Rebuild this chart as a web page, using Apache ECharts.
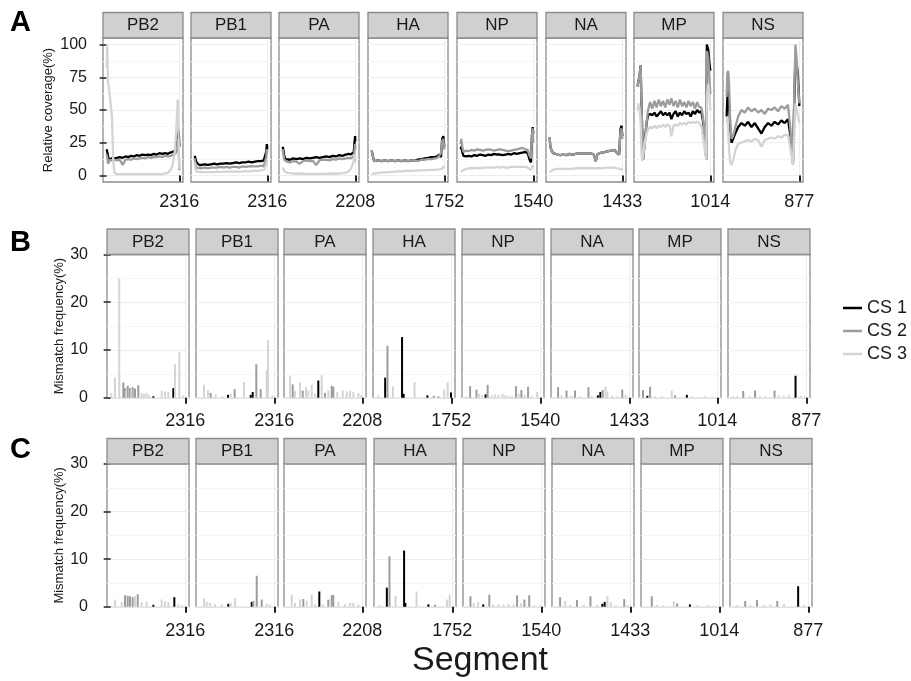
<!DOCTYPE html>
<html><head><meta charset="utf-8">
<script src="https://cdn.jsdelivr.net/npm/echarts@6/dist/echarts.min.js"></script>
<style>html,body{margin:0;padding:0;background:#fff}#chart{width:911px;height:681px}</style>
</head><body><div id="chart"></div>
<script>
// ---------------- DATA ----------------
const segments = ['PB2','PB1','PA','HA','NP','NA','MP','NS'];
const segLength = [2316,2316,2208,1752,1540,1433,1014,877];
const csNames = ['CS 1','CS 2','CS 3'];
const coverageTicks = [0,25,50,75,100];
const coverageMinor = [12.5,37.5,62.5,87.5];
const mismatchTicks = [0,10,20,30];

// Panel A: relative coverage (%) along each segment; positions (nt) shared by the three samples
const covPos = [
  [1,20,45,70,100,130,170,210,250,330,420,510,600,690,780,870,960,1050,1140,1230,1320,1410,1500,1590,1680,1770,1860,1950,2030,2100,2160,2200,2240,2265,2285,2300,2316],
  [1,25,60,100,150,220,320,420,520,620,720,820,920,1020,1120,1220,1320,1420,1520,1620,1720,1820,1920,2020,2120,2200,2250,2280,2300,2316],
  [1,20,50,90,140,220,320,420,520,620,720,820,920,1020,1120,1220,1320,1420,1520,1620,1720,1820,1920,2000,2070,2120,2160,2185,2200,2208],
  [1,15,35,60,100,160,240,320,400,480,560,640,720,800,880,960,1040,1120,1200,1280,1360,1440,1520,1580,1630,1670,1700,1725,1752],
  [1,15,35,60,90,120,170,230,290,350,410,470,530,590,650,710,770,830,890,950,1010,1070,1130,1190,1250,1310,1370,1420,1460,1490,1510,1525,1540],
  [1,15,40,70,100,150,210,270,330,390,450,510,570,630,690,750,810,870,910,940,980,1040,1100,1160,1220,1280,1330,1370,1395,1415,1433],
  [1,10,25,43,52,64,76,100,125,146,175,205,235,265,295,325,355,385,415,445,471,500,530,560,590,620,650,680,710,740,770,800,830,860,888,910,935,958,965,985,1000,1014],
  [1,10,20,30,45,60,80,110,140,180,220,260,300,340,380,420,460,500,540,580,620,660,700,740,770,800,815,830,845,860,877]
];
const covCS1 = [
  [20,18,15,12,13,13.5,13,13.5,13,13.5,14,13.5,14.5,14,15,14.5,15.5,15,16,15.5,16,15.5,16.5,16,17,16.5,17,16.5,17.5,18,18.5,19,24,30,35,32,22],
  [15,13,10,8.5,8,8,8.5,8,8.5,9,8.5,9,9,9.5,9,9.5,10,9.5,10,10,10.5,10,10.5,11,11,11.5,12,18,24,20],
  [22,20,15,12.5,12.5,12,13,12.5,13,12.5,13.5,13,13.5,14,13.5,14,14.5,14,15,14.5,15.5,15,16,16.5,16,17,18,26,30,26],
  [19,17,14,11,11,11.5,11,11.5,11,11.5,11,11.5,11,11.5,11,11.5,11.5,12,12.5,13,13.5,14,14,14.5,16,14,28,30,22],
  [20,22,18,15,14,14.5,15,14.5,15.5,15,16,15.5,15,16,15.5,16.5,16,16,15.5,16,16.5,16,17,16.5,17,17.5,18,17,12,10,30,37,32],
  [29,22,19,17,16,16,15.5,16,15.5,16.5,16,16.5,17,16.5,17,16.5,17,16,11,16,17,17.5,18,18.5,19,19.5,17,16,35,38,30],
  [68,72,75,84,60,35,12,25,40,46,47,46,48,45,47,49,46,48,46,48,43,47,49,45,48,46,49,47,48,45,49,47,50,48,49,42,28,12,100,96,86,80],
  [45,60,70,55,35,25,28,33,37,40,38,41,37,40,36,32,37,40,38,41,39,42,40,43,30,9,55,92,85,76,53]
];
const covCS2 = [
  [16,14,9,10,12,12,11.5,12,12,11.5,12,8,12,12.5,12,13,12.5,13,13.5,13,14,13.5,14,14,14.5,14,15,14.5,15,15.5,16,17,20,25,28,15,4],
  [13,9,6,6,5.5,5.5,6,5.5,6,6,6,6.5,6,6.5,6,6.5,6.5,6,7,6.5,7,7,7,7,7.5,7,8,14,20,18],
  [20,17,12,10.5,10.5,10,11,10.5,9,11,11.5,11,11,8,11.5,12,12,11.5,12.5,12,13,12.5,13,13.5,13,14,15,20,24,20],
  [19,17,14,11,11,11.5,11,11.5,11,11.5,11,11.5,11,11.5,11,11.5,11.5,11,12,12,12.5,12.5,13,13.5,15,17,26,28,20],
  [24,28,22,18,18.5,19,18.5,19.5,19,20,19.5,19,19.5,20,19.5,19,19.5,20,19.5,19,18.5,19,19.5,20,20.5,21,20,19.5,15,13,30,36,25],
  [29,22,19,17,16,16,15.5,16,15.5,16.5,16,16.5,17,16.5,17,16.5,17,16,11,16,17,17.5,18,18.5,19,19.5,17,16,33,36,28],
  [68,72,75,84,60,35,12,25,40,50,56,51,57,52,58,53,57,52,58,54,59,53,57,52,58,53,56,52,57,53,56,51,56,52,52,45,30,12,95,90,75,62],
  [60,78,80,70,40,28,30,38,45,50,48,52,49,51,48,50,47,51,50,52,49,53,51,54,35,10,60,100,88,70,55]
];
const covCS3 = [
  [82,100,70,68,68,67,45,12,2,1,1,1,1,1,1,1,1,1,1,1,1,1,1,1,1,1,1.5,2,4,8,16,28,45,58,40,18,5],
  [10,5,3,2.5,2.5,2.5,2.5,2.5,2.5,2.5,3,2.5,3,3,3,3,3,3,3,3.5,3,3.5,3.5,3.5,4,4,5,8,10,12],
  [6,5,3.5,2.5,2,1.8,1.5,1.5,1.3,1.3,1.2,1.2,1.2,1.2,1.2,1.2,1.3,1.3,1.3,1.5,1.5,1.8,2.2,3,5,8,12,16,14,10],
  [1,1,1.2,1.5,1.8,2,2.2,2.4,2.6,2.8,3,3.1,3.2,3.4,3.5,3.6,3.7,3.8,3.9,4,4.1,4.2,4.3,4.5,4.6,4.8,5,7,5.5],
  [3,2.5,3,4,5,5,5.5,5.5,5.5,6,5.5,6,6,6,6,6,6.5,6,6.5,6,6,6.5,6.5,6.5,6.5,6.5,6.5,6,5,4,6,8,6],
  [2.5,3,4,4.5,5,5,5,5,5,5,5,5.5,5.5,5.5,5.5,5.5,5.5,5.5,5.5,5.5,5.5,5.5,6,6,6,6,5.5,5,4,5,4],
  [50,55,52,40,20,11,15,25,32,35,37,36,38,36,38,37,39,37,39,38,30,38,39,38,40,39,40,39,41,40,41,40,41,40,38,30,20,12,60,70,60,50],
  [40,45,35,20,10,8,12,20,24,25,26,27,26,28,27,22,27,28,29,28,30,29,31,31,20,8,30,55,50,45,40]
];

// Panel B: mismatch frequency (%) — [position, value] per segment
const mmB_CS1 = [
  [[1324,0.3],[1945,2.0]],
  [[879,0.6],[1584,0.6],[1646,1.2]],
  [[906,3.6]],
  [[199,4.2],[596,12.7],[634,0.8],[1191,0.5],[1745,1.1]],
  [[411,0.7]],
  [[830,0.5],[877,1.2]],
  [[64,0.4],[601,0.6]],
  [[751,4.6]]
];
const mmB_CS2 = [
  [[392,3.2],[444,2.0],[528,2.5],[600,2.0],[683,2.2],[755,1.9],[858,2.6]],
  [[342,1.0],[1087,1.8],[1758,7.0],[1895,1.8]],
  [[148,2.8],[444,1.5],[1105,1.0],[1303,2.5],[1351,2.3]],
  [[253,10.9],[1341,0.4],[1450,0.3]],
  [[91,2.4],[223,1.7],[453,2.7],[1038,2.4],[1150,1.6],[1288,2.3]],
  [[65,2.2],[227,1.5],[391,1.5],[649,2.2],[922,1.6],[1298,1.7]],
  [[5,1.6],[101,2.3],[441,0.5]],
  [[136,1.4],[275,1.5],[504,1.5]]
];
const mmB_CS3 = [
  [[20,1.0],[134,4.2],[267,25],[480,1.5],[640,1.8],[963,1.0],[1040,0.8],[1118,1.0],[1200,0.5],[1585,1.5],[1687,1.3],[1790,1.2],[1998,7.0],[2132,9.5],[2256,0.5]],
  [[134,2.7],[258,1.6],[497,0.7],[702,0.3],[963,0.8],[1376,3.3],[2081,5.8],[2122,12],[2255,0.5]],
  [[68,4.6],[216,1.5],[364,3.2],[542,2.2],[610,1.5],[711,2.7],[808,0.8],[1007,4.7],[1203,1.5],[1469,1.2],[1629,1.5],[1748,1.3],[1845,1.5],[1943,1.2],[2091,1.0],[2170,0.5]],
  [[39,0.5],[382,2.4],[889,3.3],[1586,1.7],[1667,3.2]],
  [[10,0.3],[273,0.8],[342,0.5],[537,0.5],[607,0.7],[676,0.6],[760,0.8],[816,0.5],[885,0.4],[954,0.3],[1094,0.8],[1219,0.6],[1359,0.4],[1476,1.2]],
  [[130,0.5],[324,0.4],[488,0.3],[713,0.4],[975,2.3],[1013,1.3],[1103,0.4],[1200,0.3],[1364,0.6]],
  [[166,0.3],[257,0.3],[395,1.5],[670,0.3],[762,0.2],[854,0.3],[945,0.2]],
  [[16,0.3],[67,0.4],[215,0.3],[334,0.4],[394,0.3],[552,0.5],[611,0.4],[671,0.6],[810,0.4],[860,0.3]]
];

// Panel C: mismatch frequency (%) — [position, value] per segment
const mmC_CS1 = [
  [[1324,0.4],[1976,2.0]],
  [[889,0.6],[1616,1.0]],
  [[936,3.2]],
  [[215,4.0],[620,11.8],[651,0.8],[1191,0.5]],
  [[342,0.5]],
  [[896,0.6],[941,1.0]],
  [[615,0.5]],
  [[758,4.3]]
];
const mmC_CS2 = [
  [[444,2.4],[528,2.3],[600,2.2],[683,2.0],[839,2.6]],
  [[1665,1.2],[1771,6.5],[1926,1.5]],
  [[462,1.6],[1203,1.5],[1303,2.4],[1351,2.5]],
  [[277,10.6],[1348,0.4]],
  [[78,2.2],[467,2.5],[1040,2.4],[1192,1.5],[1291,2.4]],
  [[85,2.0],[410,1.4],[668,2.2],[1317,1.6]],
  [[97,2.2],[441,0.7]],
  [[136,1.2],[275,1.4],[513,1.2]]
];
const mmC_CS3 = [
  [[134,1.5],[342,1.0],[755,2.2],[963,1.0],[1118,1.0],[1585,1.5],[1687,1.2],[1790,1.0],[2100,0.5],[2206,0.3]],
  [[134,1.8],[218,1.0],[320,0.8],[475,0.5],[683,0.5],[963,0.8],[1097,1.8],[2082,0.6],[2184,0.4]],
  [[119,2.5],[216,0.8],[364,1.5],[563,1.2],[711,2.6],[809,0.5],[1037,0.5],[1499,1.0],[1697,0.5],[1845,0.8],[1943,0.8],[2091,0.5]],
  [[39,0.3],[420,2.3],[913,3.2],[1627,1.5],[1691,2.6]],
  [[147,0.8],[237,1.0],[551,0.5],[655,0.5],[760,0.5],[864,0.5],[969,0.5],[1123,0.8],[1387,0.3],[1527,0.3]],
  [[182,1.2],[279,0.4],[538,0.4],[799,0.4],[993,2.2],[1058,1.0],[1155,0.3],[1383,0.4]],
  [[166,0.4],[257,0.3],[395,1.2],[717,0.3],[854,0.3],[945,0.2]],
  [[37,0.3],[195,0.3],[353,0.4],[433,0.5],[591,0.6],[829,0.4]]
];

// ---------------- STYLE / LAYOUT ----------------
const FONT = '"Liberation Sans", Arial, Helvetica, sans-serif';
const csColors = ['#000000', '#9c9c9c', '#d4d4d4'];
const rowLayout = [
  {lefts:[103,191,279,368,457,546,634,723], width:80, top:38,    height:144,   xMargin:11, yMargin:16, yGap:48, name:'Relative coverage(%)'},
  {lefts:[107,196,284,373,462,551,639,728], width:82, top:254.5, height:143.2, xMargin:14, yMargin:19, yGap:35, name:'Mismatch frequency(%)'},
  {lefts:[107,196,284,374,463,552,641,730], width:82, top:464,   height:142.7, xMargin:15, yMargin:19, yGap:35, name:'Mismatch frequency(%)'}
];
const mmRows = [null, [mmB_CS1, mmB_CS2, mmB_CS3], [mmC_CS1, mmC_CS2, mmC_CS3]];
const covRows = [covCS1, covCS2, covCS3];

const grids = [], xAxes = [], yAxes = [], series = [], graphics = [];

rowLayout.forEach((row, r) => {
  segments.forEach((seg, i) => {
    const L = segLength[i];
    const gi = grids.length;
    const pad = 0.05 * (L - 1);
    grids.push({left: row.lefts[i], top: row.top, width: row.width, height: row.height,
      show: true, backgroundColor: '#ffffff', borderColor: '#8c8c8c', borderWidth: 1.3, containLabel: false});
    xAxes.push({type: 'value', gridIndex: gi, min: 1 - pad, max: L + pad,
      axisLine: {show: false},
      axisTick: {show: true, customValues: [L], length: 6, lineStyle: {color: '#222', width: 2}},
      axisLabel: {show: true, customValues: [L], fontSize: 18, color: '#1a1a1a', margin: row.xMargin, fontFamily: FONT,
        formatter: v => String(v)},
      splitLine: {show: true, lineStyle: {color: '#ededed', width: 1}}
    });
    const first = i === 0;
    const ticks = r === 0 ? coverageTicks : mismatchTicks;
    const yAx = {type: 'value', gridIndex: gi,
      axisLine: {show: false},
      axisTick: {show: first, customValues: ticks, length: 7, lineStyle: {color: '#222', width: 1.5}},
      axisLabel: {show: first, customValues: ticks, fontSize: 16, color: '#1a1a1a', margin: row.yMargin, fontFamily: FONT,
        formatter: v => String(v)},
      splitLine: {show: true, lineStyle: {color: '#ededed', width: 1}},
      name: first ? row.name : '', nameLocation: 'middle', nameGap: row.yGap,
      nameTextStyle: {fontSize: 13, color: '#1a1a1a', fontFamily: FONT}
    };
    if (r === 0) { yAx.min = -5; yAx.max = 105; }
    else {
      yAx.min = 0; yAx.max = 30; yAx.interval = 10;
      yAx.minorTick = {show: false, splitNumber: 2};
      yAx.minorSplitLine = {show: true, lineStyle: {color: '#f6f6f6', width: 1}};
    }
    yAxes.push(yAx);

    // strip
    graphics.push({type: 'rect', z: 10, shape: {x: row.lefts[i], y: row.top - 25.5, width: row.width, height: 25.5},
      style: {fill: '#d0d0d0', stroke: '#8c8c8c', lineWidth: 1.3}});
    graphics.push({type: 'text', z: 11, x: row.lefts[i] + row.width / 2, y: row.top - 12.5,
      style: {text: seg, fontSize: 17, fontFamily: FONT, fill: '#1a1a1a', textAlign: 'center', textVerticalAlign: 'middle'}});

    if (r === 0) {
      for (let k = 0; k < 3; k++) {
        const data = covPos[i].map((p, j) => [p, covRows[k][i][j]]);
        const s = {type: 'line', name: csNames[k], xAxisIndex: gi, yAxisIndex: gi, data: data,
          showSymbol: false, symbol: 'none', color: csColors[k], itemStyle: {color: csColors[k]},
          lineStyle: {color: csColors[k], width: 2.3}, silent: true, animation: false, z: 2 + k};
        if (k === 0) {
          s.markLine = {silent: true, symbol: 'none', z: 1, animation: false, label: {show: false},
            lineStyle: {color: '#f6f6f6', width: 1, type: 'solid'},
            data: coverageMinor.map(v => ({yAxis: v}))};
        }
        series.push(s);
      }
    } else {
      for (let k = 0; k < 3; k++) {
        series.push({type: 'bar', name: csNames[k], xAxisIndex: gi, yAxisIndex: gi, data: mmRows[r][k][i],
          barWidth: 2, barGap: '-100%', color: csColors[k], itemStyle: {color: csColors[k]},
          silent: true, animation: false, z: 2 + k});
      }
    }
  });
});

// panel letters and axis title
[['A', 23], ['B', 243], ['C', 450]].forEach(([t, y]) => {
  graphics.push({type: 'text', x: 10, y: y, style: {text: t, fontSize: 29, fontWeight: 'bold', fontFamily: FONT,
    fill: '#000', textAlign: 'left', textVerticalAlign: 'middle'}});
});
graphics.push({type: 'text', x: 480, y: 661, style: {text: 'Segment', fontSize: 34, fontFamily: FONT,
  fill: '#1a1a1a', textAlign: 'center', textVerticalAlign: 'middle'}});

const option = {
  animation: false,
  backgroundColor: '#ffffff',
  grid: grids, xAxis: xAxes, yAxis: yAxes, series: series, graphic: graphics,
  legend: {orient: 'vertical', left: 838, top: 294, icon: 'rect', itemWidth: 19, itemHeight: 2.5, itemGap: 5,
    selectedMode: false, data: csNames,
    textStyle: {fontSize: 18, color: '#1a1a1a', fontFamily: FONT}}
};
const chart = echarts.init(document.getElementById('chart'), null, {renderer: 'canvas'});
chart.setOption(option);
</script></body></html>
